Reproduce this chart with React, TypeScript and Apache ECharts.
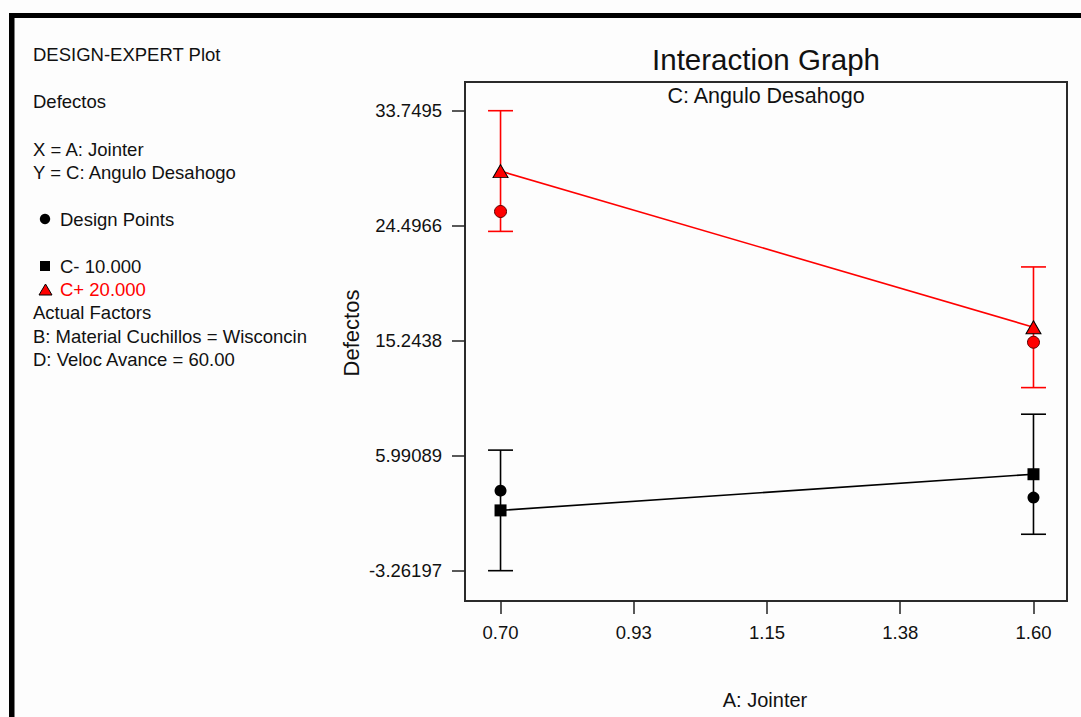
import React, { useEffect, useRef } from "react";
import * as echarts from "echarts";

// ---- data ----
const xTickValues = [0.7, 0.925, 1.15, 1.375, 1.6];
const xTickLabels = ["0.70", "0.93", "1.15", "1.38", "1.60"];
const yTickValues = [-3.26197, 5.99089, 15.2438, 24.4966, 33.7495];
const yTickLabels = ["-3.26197", "5.99089", "15.2438", "24.4966", "33.7495"];

const jointerLevels = [0.7, 1.6];
// C- 10.000
const cMinusPredicted = [1.59, 4.5];
const cMinusLower = [-3.26, -0.33];
const cMinusUpper = [6.44, 9.33];
const cMinusDesign = [3.18, 2.62];
// C+ 20.000
const cPlusPredicted = [28.89, 16.33];
const cPlusLower = [24.04, 11.47];
const cPlusUpper = [33.75, 21.18];
const cPlusDesign = [25.64, 15.12];

const FONT = "'Liberation Sans', Arial, sans-serif";
const RED = "#ff0000";
const BLACK = "#000000";

function lookup(values: number[], labels: string[], v: number) {
  for (let i = 0; i < values.length; i++) {
    if (Math.abs(values[i] - v) < 1e-6) return labels[i];
  }
  return String(v);
}

function errorBarSeries(name: string, lower: number[], upper: number[], color: string) {
  return {
    name,
    type: "custom",
    z: 2,
    data: jointerLevels.map((x, i) => [x, lower[i], upper[i]]),
    renderItem: (params: any, api: any) => {
      const x = api.value(0);
      const lo = api.coord([x, api.value(1)]);
      const hi = api.coord([x, api.value(2)]);
      const half = 12.5;
      const style = { stroke: color, lineWidth: 1.6 };
      return {
        type: "group",
        children: [
          { type: "line", shape: { x1: hi[0], y1: hi[1], x2: lo[0], y2: lo[1] }, style },
          { type: "line", shape: { x1: hi[0] - half, y1: hi[1], x2: hi[0] + half, y2: hi[1] }, style },
          { type: "line", shape: { x1: lo[0] - half, y1: lo[1], x2: lo[0] + half, y2: lo[1] }, style },
        ],
      };
    },
  };
}

export default function App() {
  const ref = useRef<HTMLDivElement>(null);

  useEffect(() => {
    if (!ref.current) return;
    const chart = echarts.init(ref.current, undefined, { renderer: "svg" });

    const leftText = (text: string, x: number, y: number, color = "#111") => ({
      type: "text",
      x,
      y,
      style: {
        text,
        fill: color,
        font: `18.5px ${FONT}`,
        textAlign: "left",
        textVerticalAlign: "middle",
      },
    });

    const option: any = {
      animation: false,
      backgroundColor: "#fdfdfd",
      grid: {
        left: 465,
        top: 82,
        width: 602,
        height: 519,
        show: true,
        borderColor: "#2a2a2a",
        borderWidth: 2,
        backgroundColor: "transparent",
      },
      xAxis: {
        type: "value",
        min: 0.64,
        max: 1.6566,
        axisLine: { show: true, onZero: false, lineStyle: { color: "#2a2a2a", width: 2 } },
        axisTick: {
          show: true,
          inside: false,
          length: 13,
          customValues: xTickValues,
          lineStyle: { color: "#222", width: 1.5 },
        },
        axisLabel: {
          show: true,
          customValues: xTickValues,
          formatter: (v: number) => lookup(xTickValues, xTickLabels, v),
          margin: 22,
          fontSize: 18.5,
          fontFamily: FONT,
          color: "#111",
        },
        splitLine: { show: false },
      },
      yAxis: {
        type: "value",
        min: -5.7,
        max: 36.06,
        axisLine: { show: true, onZero: false, lineStyle: { color: "#2a2a2a", width: 2 } },
        axisTick: {
          show: true,
          inside: false,
          length: 13,
          customValues: yTickValues,
          lineStyle: { color: "#222", width: 1.5 },
        },
        axisLabel: {
          show: true,
          customValues: yTickValues,
          formatter: (v: number) => lookup(yTickValues, yTickLabels, v),
          margin: 23,
          fontSize: 18.5,
          fontFamily: FONT,
          color: "#111",
        },
        splitLine: { show: false },
      },
      graphic: [
        // outer frame (screenshot border)
        { type: "rect", shape: { x: 9, y: 13, width: 1072, height: 5 }, style: { fill: "#000" } },
        { type: "rect", shape: { x: 9, y: 13, width: 5.5, height: 704 }, style: { fill: "#000" } },
        // titles
        {
          type: "text",
          x: 766,
          y: 59,
          style: {
            text: "Interaction Graph",
            fill: "#111",
            font: `29.5px ${FONT}`,
            textAlign: "center",
            textVerticalAlign: "middle",
          },
        },
        {
          type: "text",
          x: 766,
          y: 96,
          style: {
            text: "C: Angulo Desahogo",
            fill: "#111",
            font: `21.5px ${FONT}`,
            textAlign: "center",
            textVerticalAlign: "middle",
          },
        },
        // axis names
        {
          type: "text",
          x: 351,
          y: 333,
          rotation: Math.PI / 2,
          style: {
            text: "Defectos",
            fill: "#111",
            font: `22px ${FONT}`,
            textAlign: "center",
            textVerticalAlign: "middle",
          },
        },
        {
          type: "text",
          x: 765,
          y: 700,
          style: {
            text: "A: Jointer",
            fill: "#111",
            font: `20px ${FONT}`,
            textAlign: "center",
            textVerticalAlign: "middle",
          },
        },
        // left info panel
        leftText("DESIGN-EXPERT Plot", 33, 54),
        leftText("Defectos", 33, 101),
        leftText("X = A: Jointer", 33, 149),
        leftText("Y = C: Angulo Desahogo", 33, 172.5),
        { type: "circle", shape: { cx: 45, cy: 219, r: 5.2 }, style: { fill: "#000" } },
        leftText("Design Points", 60, 219),
        { type: "rect", shape: { x: 40, y: 261, width: 10, height: 10 }, style: { fill: "#000" } },
        leftText("C- 10.000", 60, 266),
        {
          type: "polygon",
          shape: { points: [[45.5, 284], [52, 295], [39, 295]] },
          style: { fill: RED, stroke: "#000", lineWidth: 1 },
        },
        leftText("C+ 20.000", 60, 289, RED),
        leftText("Actual Factors", 33, 312.5),
        leftText("B: Material Cuchillos = Wisconcin", 33, 336),
        leftText("D: Veloc Avance = 60.00", 33, 359),
      ],
      series: [
        errorBarSeries("C- LSD", cMinusLower, cMinusUpper, BLACK),
        errorBarSeries("C+ LSD", cPlusLower, cPlusUpper, RED),
        {
          name: "C- 10.000",
          type: "line",
          z: 3,
          data: jointerLevels.map((x, i) => [x, cMinusPredicted[i]]),
          symbol: "rect",
          symbolSize: 12,
          itemStyle: { color: BLACK, borderColor: BLACK, borderWidth: 0, opacity: 1 },
          lineStyle: { color: BLACK, width: 1.6 },
        },
        {
          name: "C+ 20.000",
          type: "line",
          z: 3,
          data: jointerLevels.map((x, i) => [x, cPlusPredicted[i]]),
          symbol: "triangle",
          symbolSize: [15, 13],
          itemStyle: { color: RED, borderColor: "#000", borderWidth: 1, opacity: 1 },
          lineStyle: { color: RED, width: 1.6 },
        },
        {
          name: "Design Points C-",
          type: "scatter",
          z: 4,
          data: jointerLevels.map((x, i) => [x, cMinusDesign[i]]),
          symbol: "circle",
          symbolSize: 12,
          itemStyle: { color: BLACK, opacity: 1 },
        },
        {
          name: "Design Points C+",
          type: "scatter",
          z: 4,
          data: jointerLevels.map((x, i) => [x, cPlusDesign[i]]),
          symbol: "circle",
          symbolSize: 12,
          itemStyle: { color: RED, borderColor: "#5a0000", borderWidth: 1, opacity: 1 },
        },
      ],
    };

    chart.setOption(option);
    return () => chart.dispose();
  }, []);

  return (
    <div
      ref={ref}
      style={{ position: "fixed", left: 0, top: 0, width: 1081, height: 717 }}
    />
  );
}
